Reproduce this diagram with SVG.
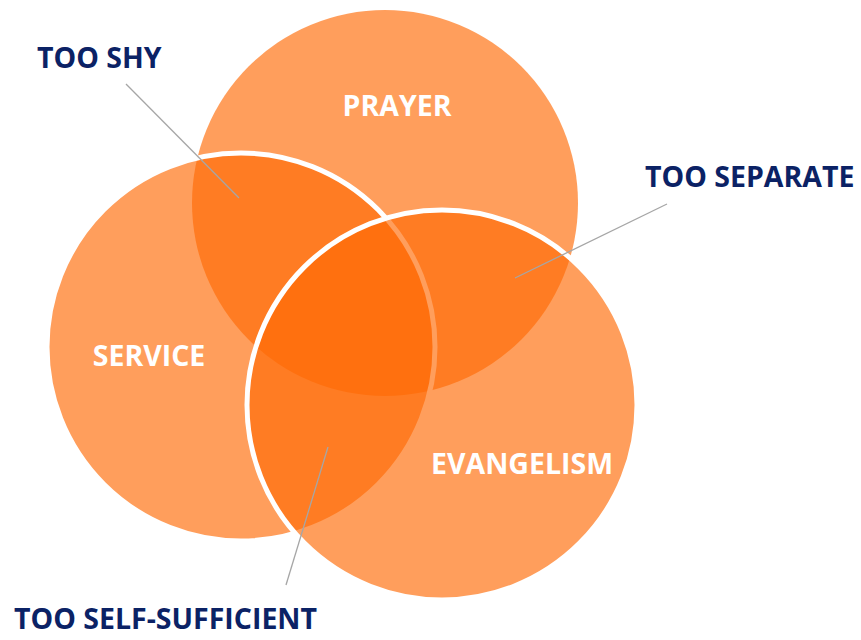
<svg xmlns="http://www.w3.org/2000/svg" width="861" height="640" viewBox="0 0 861 640">
<style>
.c{fill:#FF6A04;fill-opacity:0.65}
.s{stroke:#FFFFFF;stroke-width:5}
.lbl{font-family:"Open Sans","Liberation Sans",sans-serif;font-weight:700;font-size:28.5px;fill:#FFFFFF;text-anchor:middle}
.ann{font-family:"Open Sans","Liberation Sans",sans-serif;font-weight:700;font-size:28.5px;fill:#0B2265}
.ln{stroke:#A6A6A6;stroke-width:1.3;fill:none}
</style>
<rect width="861" height="640" fill="#FFFFFF"/>
<g id="prayer">
<circle class="c" cx="385" cy="203" r="193"/>
</g>
<g id="service">
<circle class="c s" cx="241" cy="347" r="194"/>
</g>
<g id="evangelism">
<circle class="c s" cx="442" cy="405" r="195"/>
</g>
<g id="labels">
<text class="lbl" x="397" y="116">PRAYER</text>
<text class="lbl" x="149" y="366">SERVICE</text>
<text class="lbl" x="522" y="474">EVANGELISM</text>
</g>
<g id="connectors">
<line class="ln" x1="126" y1="84" x2="239" y2="198"/>
<line class="ln" x1="667" y1="204" x2="515" y2="278"/>
<line class="ln" x1="328" y1="447" x2="286" y2="585"/>
</g>
<g id="too-shy"><text class="ann" x="37" y="68">TOO SHY</text></g>
<g id="too-separate"><text class="ann" x="645" y="187">TOO SEPARATE</text></g>
<g id="too-self-sufficient"><text class="ann" x="14" y="629">TOO SELF-SUFFICIENT</text></g>
</svg>
